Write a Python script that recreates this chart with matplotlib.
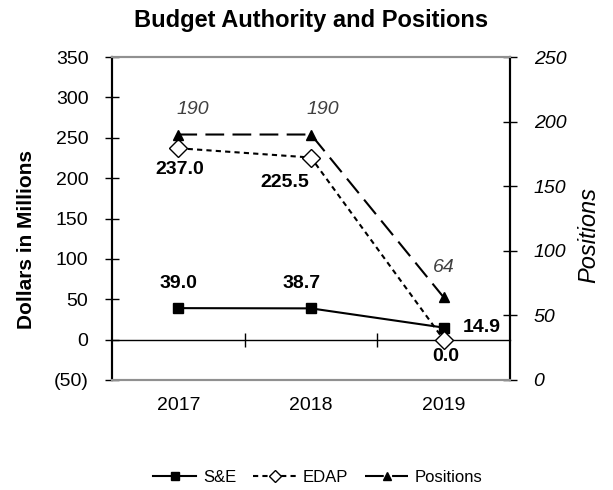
import matplotlib
matplotlib.use("Agg")
import matplotlib.pyplot as plt

plt.rcParams['font.family'] = ['Liberation Sans', 'DejaVu Sans']

years = ['2017', '2018', '2019']
se = [39.0, 38.7, 14.9]
edap = [237.0, 225.5, 0.0]
positions = [190, 190, 64]

# label offsets in pixels (dx, dy)
se_off = [(0, 25), (-9, 25), (38, 0)]
edap_off = [(1, -21), (-26, -25), (2, -17)]
pos_off = [(14, 25), (12, 25), (0, 30)]

fig = plt.figure(figsize=(6.13, 4.9), dpi=100)
ax = fig.add_axes([112/613, 1-380/490, 398/613, 323/490])
ax2 = ax.twinx()

x = list(range(len(years)))

ax.plot(x, se, color='black', lw=1.5, marker='s', markersize=7.5, label='S&E', zorder=3)
ax.plot(x, edap, color='black', lw=1.5, ls=(0, (2.5, 2)), marker='D', markersize=9,
        markerfacecolor='white', markeredgecolor='black', markeredgewidth=1, label='EDAP', zorder=4)
ax2.plot(x, positions, color='black', lw=1.5, ls=(0, (9, 4)), marker='^', markersize=7.5,
         label='Positions', zorder=3)

ax.set_xlim(-0.5, 2.5)
ax.set_ylim(-50, 350)
ax2.set_ylim(0, 250)

ax.set_yticks(range(-50, 351, 50))
ax.set_yticklabels(['(50)'] + [str(v) for v in range(0, 351, 50)], fontsize=14)
ax2.set_yticks(range(0, 251, 50))
ax2.set_yticklabels([str(v) for v in range(0, 251, 50)], fontsize=14, style='italic')

ax.set_xticks(x)
ax.set_xticklabels(years, fontsize=14)
ax.tick_params(axis='x', length=0, pad=12)
ax.tick_params(axis='y', direction='inout', length=10, width=1, pad=12)
ax2.tick_params(axis='y', direction='inout', length=10, width=1, pad=12)

for a in (ax, ax2):
    a.spines['left'].set_linewidth(1.5)
    a.spines['right'].set_linewidth(1.5)
    a.spines['top'].set_color('#909090')
    a.spines['bottom'].set_color('#909090')
    a.spines['top'].set_linewidth(1.5)
    a.spines['bottom'].set_linewidth(1.5)

# zero line with category boundary ticks
zero = ax.secondary_xaxis(50/400)
zero.set_xticks([0.5, 1.5])
zero.set_xticklabels([])
zero.tick_params(direction='inout', length=10, width=1)
zero.spines['bottom'].set_linewidth(1)

for i in x:
    ax.annotate(f'{se[i]:.1f}', (i, se[i]), xytext=se_off[i], textcoords='offset pixels',
                ha='center', va='center', fontsize=14, fontweight='bold')
    ax.annotate(f'{edap[i]:.1f}', (i, edap[i]), xytext=edap_off[i], textcoords='offset pixels',
                ha='center', va='center', fontsize=14, fontweight='bold')
    ax2.annotate(str(positions[i]), (i, positions[i]), xytext=pos_off[i], textcoords='offset pixels',
                 ha='center', va='center', fontsize=14, style='italic', color='#404040')

fig.text(311/613, 1-21/490, 'Budget Authority and Positions', ha='center', va='center',
         fontsize=17, fontweight='bold')
fig.text(26/613, 1-239/490, 'Dollars in Millions', rotation=90, ha='center', va='center',
         fontsize=15, fontweight='bold')
fig.text(589/613, 1-235/490, 'Positions', rotation=90, ha='center', va='center',
         fontsize=17, style='italic')

h1, l1 = ax.get_legend_handles_labels()
h2, l2 = ax2.get_legend_handles_labels()
fig.legend(h1 + h2, l1 + l2, loc='center', bbox_to_anchor=(318/613, 1-477/490), ncol=3,
           frameon=False, fontsize=12, handlelength=2.6, columnspacing=1.0, handletextpad=0.4,
           markerscale=0.7)

fig.savefig('out.png', dpi=100)
